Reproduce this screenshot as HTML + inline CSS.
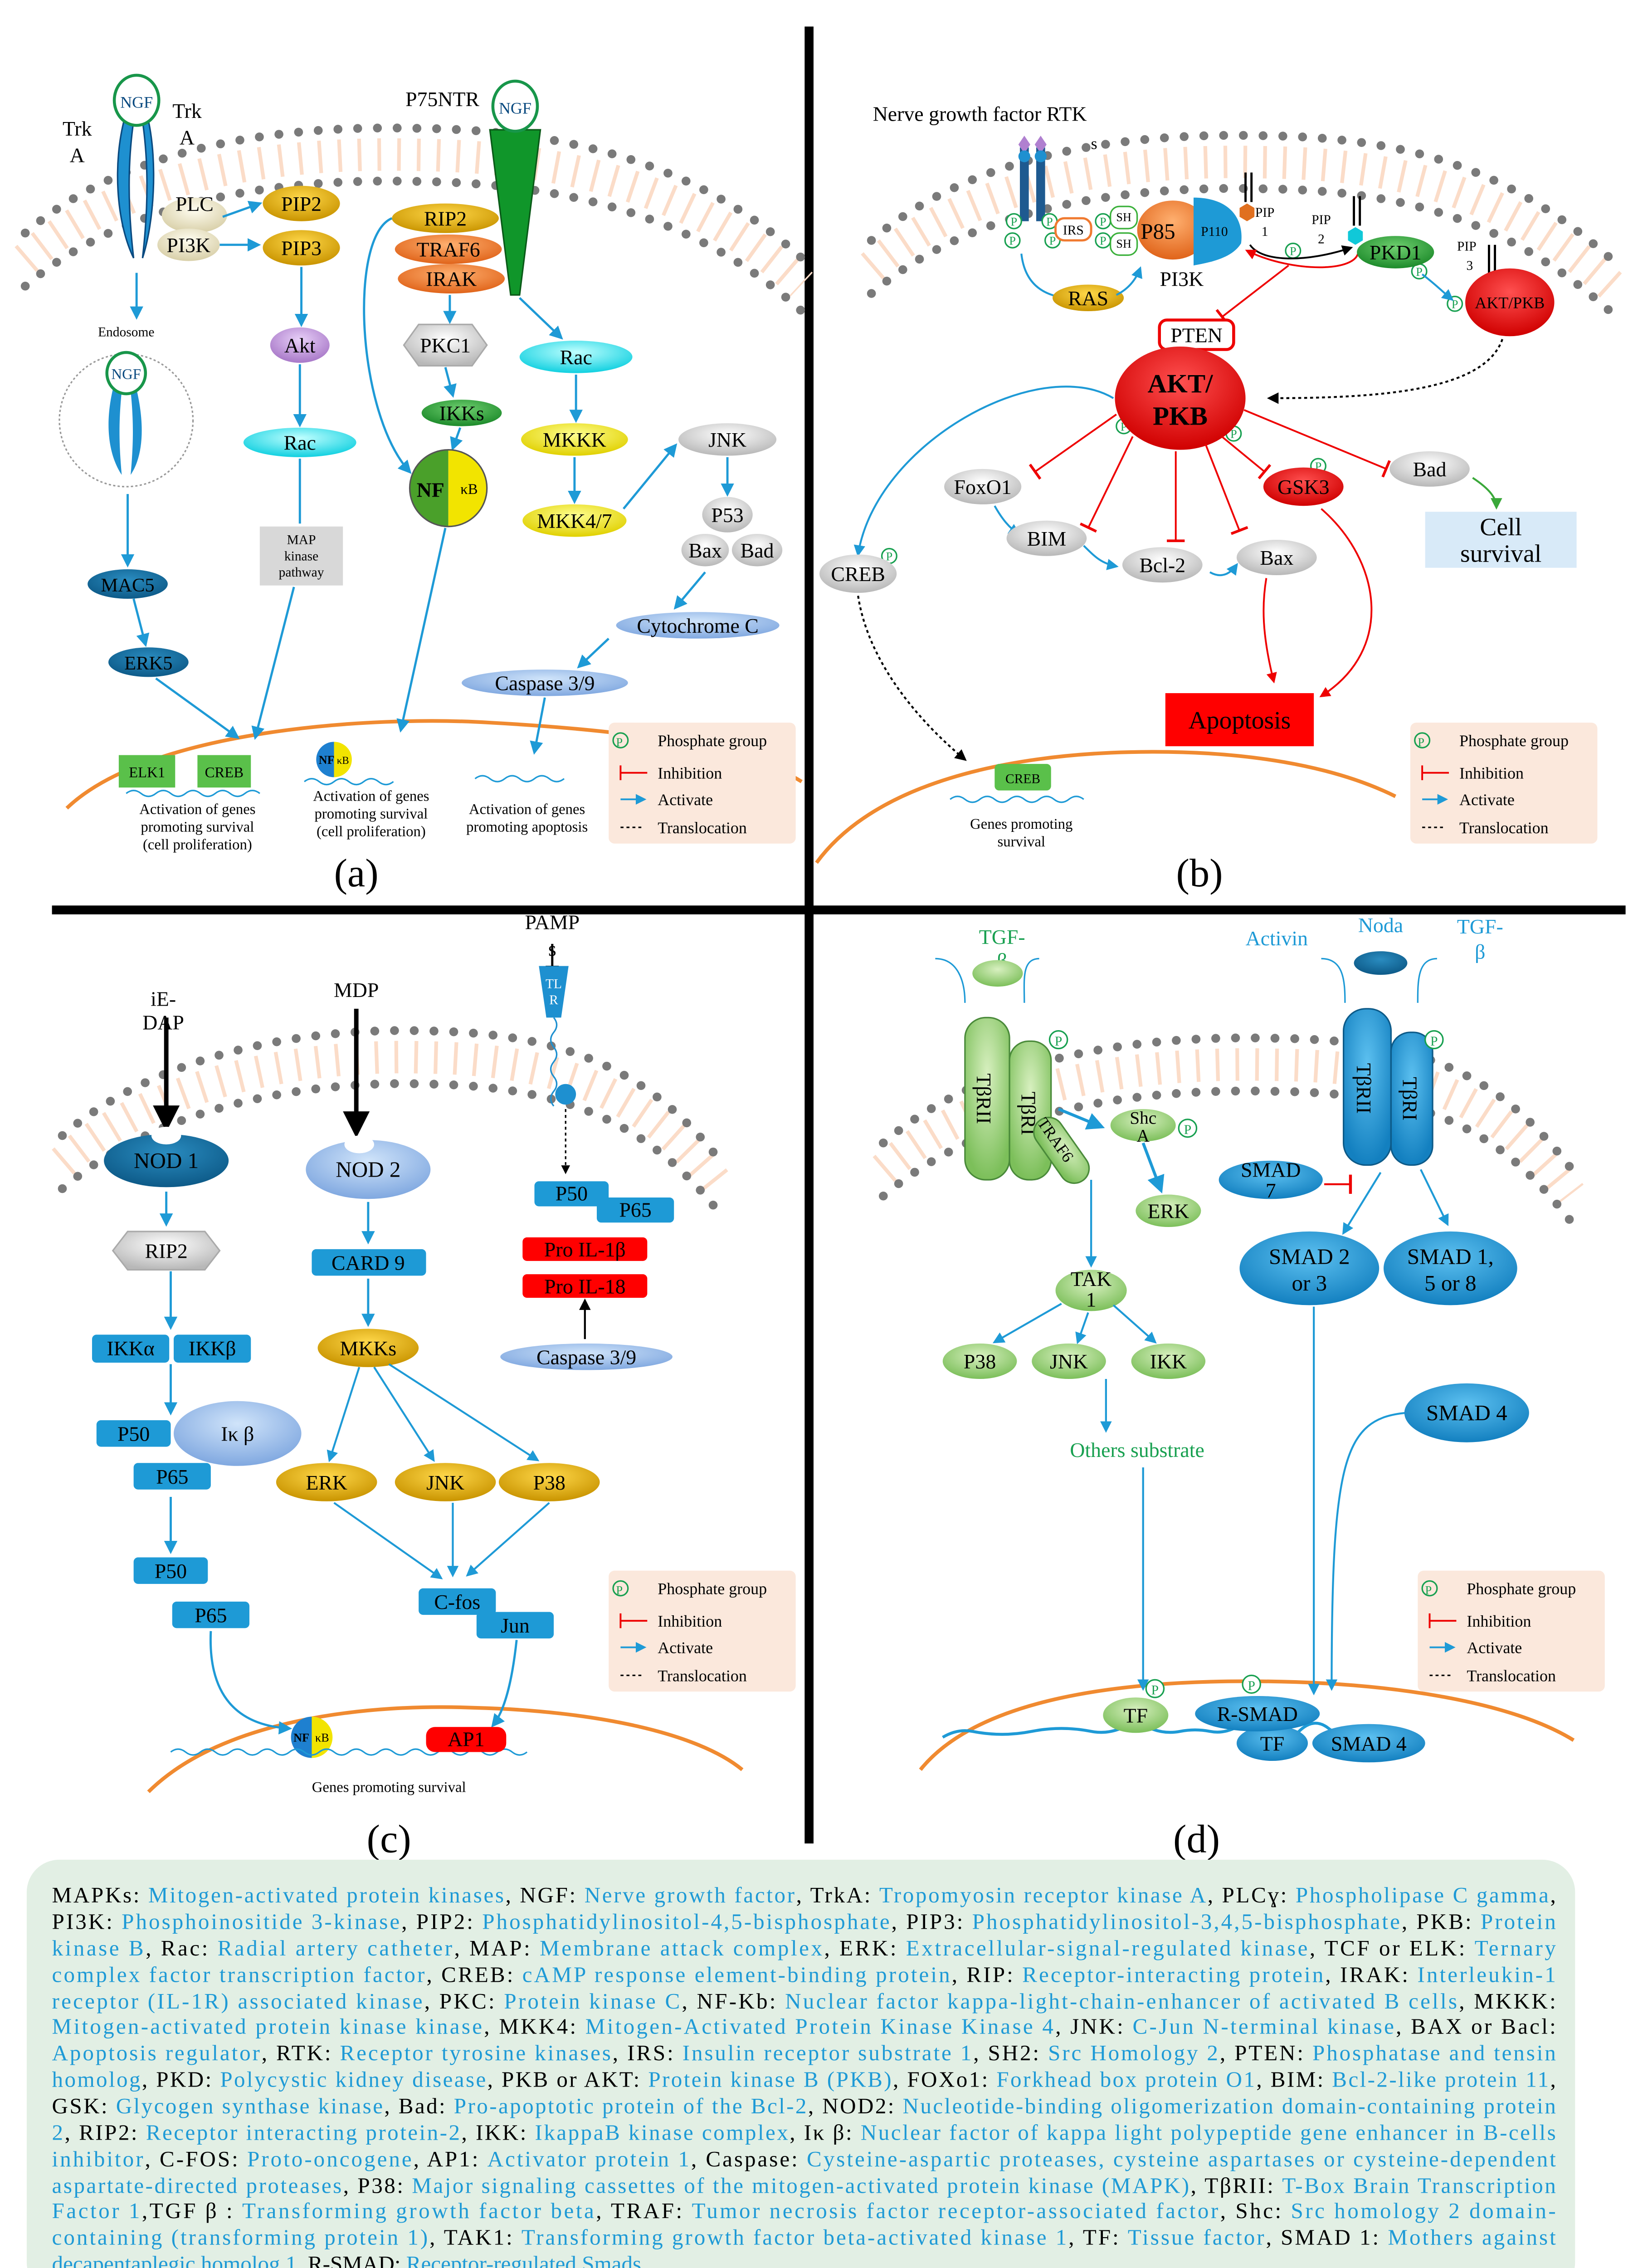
<!DOCTYPE html>
<html><head><meta charset="utf-8"><style>
html,body{margin:0;padding:0;background:#fff;width:3601px;height:5098px;overflow:hidden}
svg{display:block}
text{font-family:"Liberation Serif",serif}
</style></head><body>
<svg width="3601" height="5098" viewBox="0 0 1100 1568" preserveAspectRatio="none" xmlns="http://www.w3.org/2000/svg">
<defs>
<radialGradient id="gO" cx="50%" cy="35%" r="65%"><stop offset="0" stop-color="#ffd84a"/><stop offset="1" stop-color="#c99400"/></radialGradient>
<radialGradient id="gOr" cx="50%" cy="35%" r="65%"><stop offset="0" stop-color="#ffb070"/><stop offset="1" stop-color="#e0641a"/></radialGradient>
<radialGradient id="gB" cx="50%" cy="35%" r="65%"><stop offset="0" stop-color="#5cc0f0"/><stop offset="1" stop-color="#1380c0"/></radialGradient>
<radialGradient id="gDB" cx="50%" cy="35%" r="65%"><stop offset="0" stop-color="#2a8cc0"/><stop offset="1" stop-color="#0d5a88"/></radialGradient>
<radialGradient id="gLB" cx="50%" cy="35%" r="65%"><stop offset="0" stop-color="#d0e4fa"/><stop offset="1" stop-color="#80a8e0"/></radialGradient>
<radialGradient id="gG" cx="50%" cy="35%" r="65%"><stop offset="0" stop-color="#d8f0c0"/><stop offset="1" stop-color="#7cbf5a"/></radialGradient>
<radialGradient id="gGr" cx="50%" cy="35%" r="65%"><stop offset="0" stop-color="#70d070"/><stop offset="1" stop-color="#1c8a2a"/></radialGradient>
<radialGradient id="gC" cx="50%" cy="35%" r="65%"><stop offset="0" stop-color="#c0ffff"/><stop offset="1" stop-color="#10d0e0"/></radialGradient>
<radialGradient id="gY" cx="50%" cy="35%" r="65%"><stop offset="0" stop-color="#ffff90"/><stop offset="1" stop-color="#e0d000"/></radialGradient>
<radialGradient id="gR" cx="50%" cy="35%" r="65%"><stop offset="0" stop-color="#ff5050"/><stop offset="1" stop-color="#d00000"/></radialGradient>
<radialGradient id="gW" cx="50%" cy="35%" r="65%"><stop offset="0" stop-color="#ffffff"/><stop offset="1" stop-color="#b8b8b8"/></radialGradient>
<radialGradient id="gP" cx="50%" cy="35%" r="65%"><stop offset="0" stop-color="#e8d0f8"/><stop offset="1" stop-color="#a878c8"/></radialGradient>
<radialGradient id="gCr" cx="50%" cy="35%" r="65%"><stop offset="0" stop-color="#fffdf0"/><stop offset="1" stop-color="#d8cfa8"/></radialGradient>
<marker id="ab" viewBox="0 0 10 10" refX="8" refY="5" markerWidth="6" markerHeight="6" orient="auto"><path d="M0,0L10,5L0,10z" fill="#1e9ad6"/></marker>
<marker id="ak" viewBox="0 0 10 10" refX="8" refY="5" markerWidth="6" markerHeight="6" orient="auto"><path d="M0,0L10,5L0,10z" fill="#000"/></marker>
<marker id="ag" viewBox="0 0 10 10" refX="8" refY="5" markerWidth="6" markerHeight="6" orient="auto"><path d="M0,0L10,5L0,10z" fill="#3aa83a"/></marker>
<marker id="ar" viewBox="0 0 10 10" refX="8" refY="5" markerWidth="6" markerHeight="6" orient="auto"><path d="M0,0L10,5L0,10z" fill="#e00"/></marker>
<marker id="ti" viewBox="0 0 4 20" refX="2" refY="10" markerWidth="3" markerHeight="10" orient="auto"><rect x="0" y="0" width="3" height="20" fill="#e00"/></marker>
</defs>

<rect x="542" y="18" width="6" height="1232" fill="#000"/>
<rect x="35" y="614" width="1060" height="6" fill="#000"/>

<g fill="none">
<g>
<path d="M17,176 C90,113 200,103 280,105 C380,106 470,128 540,193" stroke="#fbdcc8" stroke-width="22" stroke-dasharray="2.5 10.8"/>
<path d="M17,158 C90,95 200,85 280,87 C380,88 470,110 540,175" stroke="#7a7a7a" stroke-width="6" stroke-linecap="round" stroke-dasharray="0 13.3"/>
<path d="M17,194 C90,131 200,121 280,123 C380,124 470,146 540,211" stroke="#7a7a7a" stroke-width="6" stroke-linecap="round" stroke-dasharray="0 13.3"/>
</g>
<g transform="translate(570,5)">
<path d="M17,176 C90,113 200,103 280,105 C380,106 450,128 520,193" stroke="#fbdcc8" stroke-width="22" stroke-dasharray="2.5 10.8"/>
<path d="M17,158 C90,95 200,85 280,87 C380,88 450,110 520,175" stroke="#7a7a7a" stroke-width="6" stroke-linecap="round" stroke-dasharray="0 13.3"/>
<path d="M17,194 C90,131 200,121 280,123 C380,124 450,146 520,211" stroke="#7a7a7a" stroke-width="6" stroke-linecap="round" stroke-dasharray="0 13.3"/>
</g>
<g transform="translate(25,612)">
<path d="M17,176 C90,113 200,103 260,105 C350,106 410,128 460,193" stroke="#fbdcc8" stroke-width="22" stroke-dasharray="2.5 10.8"/>
<path d="M17,158 C90,95 200,85 260,87 C350,88 410,110 460,175" stroke="#7a7a7a" stroke-width="6" stroke-linecap="round" stroke-dasharray="0 13.3"/>
<path d="M17,194 C90,131 200,121 260,123 C350,124 410,146 460,211" stroke="#7a7a7a" stroke-width="6" stroke-linecap="round" stroke-dasharray="0 13.3"/>
</g>
<g transform="translate(578,617)">
<path d="M17,176 C90,113 200,103 280,105 C380,106 430,128 480,193" stroke="#fbdcc8" stroke-width="22" stroke-dasharray="2.5 10.8"/>
<path d="M17,158 C90,95 200,85 280,87 C380,88 430,110 480,175" stroke="#7a7a7a" stroke-width="6" stroke-linecap="round" stroke-dasharray="0 13.3"/>
<path d="M17,194 C90,131 200,121 280,123 C380,124 430,146 480,211" stroke="#7a7a7a" stroke-width="6" stroke-linecap="round" stroke-dasharray="0 13.3"/>
</g>
<path d="M45,548 C100,495 250,485 330,490 C420,495 500,505 540,530" stroke="#f08a30" stroke-width="2.5"/>
<path d="M550,585 C590,530 680,512 760,510 C840,508 900,520 940,540" stroke="#f08a30" stroke-width="2.5"/>
<path d="M100,1215 C150,1165 250,1155 320,1158 C400,1160 470,1175 500,1200" stroke="#f08a30" stroke-width="2.5"/>
<path d="M620,1200 C660,1150 760,1140 840,1140 C940,1140 1020,1155 1060,1180" stroke="#f08a30" stroke-width="2.5"/>
</g>

<g font-size="11">
<g id="lg">
<rect x="410" y="490" width="126" height="82" rx="4" fill="#fbe8dc"/>
<circle cx="418" cy="502" r="5" fill="none" stroke="#18a050"/><text x="415" y="506" font-size="8" fill="#18a050">P</text>
<text x="443" y="506">Phosphate group</text>
<line x1="418" y1="524" x2="436" y2="524" stroke="#e00" stroke-width="1.2"/><line x1="418" y1="519" x2="418" y2="529" stroke="#e00" stroke-width="1.2"/>
<text x="443" y="528">Inhibition</text>
<line x1="418" y1="542" x2="434" y2="542" stroke="#1e9ad6" stroke-width="1.2" marker-end="url(#ab)"/>
<text x="443" y="546">Activate</text>
<line x1="418" y1="561" x2="434" y2="561" stroke="#000" stroke-dasharray="2 2"/>
<text x="443" y="565">Translocation</text>
</g>
<use href="#lg" x="540" y="0"/>
<use href="#lg" x="0" y="575"/>
<use href="#lg" x="545" y="575"/>
</g>

<g font-size="27" text-anchor="middle">
<text x="240" y="601">(a)</text><text x="808" y="601">(b)</text>
<text x="262" y="1256">(c)</text><text x="806" y="1256">(d)</text>
</g>

<!-- PANEL A -->
<g font-size="14" text-anchor="middle">
<text x="52" y="92">Trk</text><text x="52" y="110">A</text>
<text x="126" y="80">Trk</text><text x="126" y="98">A</text>
<path d="M84,80 C76,110 78,150 90,175 C86,140 86,110 90,82z" fill="#1e90d0" stroke="#0a4a80" stroke-width="1"/>
<path d="M100,82 C106,110 104,150 96,175 C100,140 100,110 96,82z" fill="#1e90d0" stroke="#0a4a80" stroke-width="1"/>
<ellipse cx="92" cy="68" rx="15" ry="17" fill="#fff" stroke="#18964a" stroke-width="2"/>
<text x="92" y="73" font-size="11" fill="#0a4a80">NGF</text>
<line x1="92" y1="185" x2="92" y2="215" stroke="#1e9ad6" stroke-width="1.5" marker-end="url(#ab)"/>
<text x="85" y="228" font-size="9">Endosome</text>
<circle cx="85" cy="285" r="45" fill="none" stroke="#999" stroke-dasharray="1.5 1.5"/>
<path d="M76,264 C70,290 74,310 82,322 C80,300 80,285 82,265z" fill="#1e90d0"/>
<path d="M92,264 C98,290 96,310 88,322 C90,300 90,285 88,265z" fill="#1e90d0"/>
<ellipse cx="85" cy="253" rx="13" ry="14" fill="#fff" stroke="#18964a" stroke-width="2"/>
<text x="85" y="257" font-size="10" fill="#0a4a80">NGF</text>
<line x1="86" y1="335" x2="86" y2="383" stroke="#1e9ad6" stroke-width="1.5" marker-end="url(#ab)"/>
<ellipse cx="86" cy="396" rx="27" ry="10" fill="url(#gDB)"/><text x="86" y="401" font-size="13">MAC5</text>
<line x1="90" y1="406" x2="98" y2="437" stroke="#1e9ad6" stroke-width="1.5" marker-end="url(#ab)"/>
<ellipse cx="100" cy="449" rx="27" ry="10" fill="url(#gDB)"/><text x="100" y="454" font-size="13">ERK5</text>
<line x1="105" y1="460" x2="160" y2="500" stroke="#1e9ad6" stroke-width="1.5" marker-end="url(#ab)"/>

<ellipse cx="131" cy="146" rx="22" ry="12" fill="url(#gCr)"/><text x="131" y="143">PLC</text>
<ellipse cx="127" cy="166" rx="21" ry="11" fill="url(#gCr)"/><text x="127" y="171">PI3K</text>
<line x1="150" y1="147" x2="175" y2="138" stroke="#1e9ad6" stroke-width="1.5" marker-end="url(#ab)"/>
<line x1="148" y1="166" x2="174" y2="166" stroke="#1e9ad6" stroke-width="1.5" marker-end="url(#ab)"/>
<ellipse cx="203" cy="138" rx="26" ry="12" fill="url(#gO)"/><text x="203" y="143">PIP2</text>
<ellipse cx="203" cy="168" rx="26" ry="12" fill="url(#gO)"/><text x="203" y="173">PIP3</text>
<line x1="203" y1="181" x2="203" y2="220" stroke="#1e9ad6" stroke-width="1.5" marker-end="url(#ab)"/>
<ellipse cx="202" cy="234" rx="20" ry="12" fill="url(#gP)"/><text x="202" y="239">Akt</text>
<line x1="202" y1="247" x2="202" y2="288" stroke="#1e9ad6" stroke-width="1.5" marker-end="url(#ab)"/>
<ellipse cx="202" cy="300" rx="38" ry="10" fill="url(#gC)"/><text x="202" y="305">Rac</text>
<line x1="202" y1="311" x2="202" y2="355" stroke="#1e9ad6" stroke-width="1.5"/>
<rect x="175" y="357" width="56" height="40" fill="#d8d8d8"/>
<text x="203" y="369" font-size="9">MAP</text><text x="203" y="380" font-size="9">kinase</text><text x="203" y="391" font-size="9">pathway</text>
<line x1="198" y1="398" x2="172" y2="500" stroke="#1e9ad6" stroke-width="1.5" marker-end="url(#ab)"/>

<text x="298" y="72">P75NTR</text>
<path d="M330,88 L364,88 L350,200 L344,200z" fill="#10962a" stroke="#0a5a18"/>
<ellipse cx="347" cy="72" rx="15" ry="17" fill="#fff" stroke="#18964a" stroke-width="2"/>
<text x="347" y="77" font-size="11" fill="#0a4a80">NGF</text>
<ellipse cx="300" cy="148" rx="36" ry="10" fill="url(#gO)"/><text x="300" y="153">RIP2</text>
<ellipse cx="302" cy="169" rx="36" ry="10" fill="url(#gOr)"/><text x="302" y="174">TRAF6</text>
<ellipse cx="304" cy="189" rx="36" ry="10" fill="url(#gOr)"/><text x="304" y="194">IRAK</text>
<line x1="303" y1="200" x2="303" y2="218" stroke="#1e9ad6" stroke-width="1.5" marker-end="url(#ab)"/>
<polygon points="272,234 282,220 318,220 328,234 318,248 282,248" fill="url(#gW)" stroke="#aaa"/><text x="300" y="239">PKC1</text>
<line x1="300" y1="249" x2="305" y2="268" stroke="#1e9ad6" stroke-width="1.5" marker-end="url(#ab)"/>
<ellipse cx="311" cy="280" rx="27" ry="9" fill="url(#gGr)"/><text x="311" y="285">IKKs</text>
<line x1="310" y1="290" x2="305" y2="304" stroke="#1e9ad6" stroke-width="1.5" marker-end="url(#ab)"/>
<path d="M302,305 A26,26 0 0 0 302,357z" fill="#4aa02a"/><path d="M302,305 A26,26 0 0 1 302,357z" fill="#f2e400"/>
<circle cx="302" cy="331" r="26" fill="none" stroke="#555"/>
<text x="290" y="337" font-size="14" font-weight="bold">NF</text><text x="316" y="335" font-size="10">κB</text>
<path d="M264,148 C235,160 240,280 276,320" fill="none" stroke="#1e9ad6" stroke-width="1.5" marker-end="url(#ab)"/>
<line x1="300" y1="358" x2="270" y2="495" stroke="#1e9ad6" stroke-width="1.5" marker-end="url(#ab)"/>
<line x1="350" y1="202" x2="378" y2="229" stroke="#1e9ad6" stroke-width="1.5" marker-end="url(#ab)"/>
<ellipse cx="388" cy="242" rx="38" ry="11" fill="url(#gC)"/><text x="388" y="247">Rac</text>
<line x1="388" y1="254" x2="388" y2="285" stroke="#1e9ad6" stroke-width="1.5" marker-end="url(#ab)"/>
<ellipse cx="387" cy="298" rx="36" ry="11" fill="url(#gY)"/><text x="387" y="303">MKKK</text>
<line x1="387" y1="310" x2="387" y2="340" stroke="#1e9ad6" stroke-width="1.5" marker-end="url(#ab)"/>
<ellipse cx="387" cy="353" rx="35" ry="11" fill="url(#gY)"/><text x="387" y="358">MKK4/7</text>
<line x1="420" y1="345" x2="455" y2="302" stroke="#1e9ad6" stroke-width="1.5" marker-end="url(#ab)"/>
<ellipse cx="490" cy="298" rx="33" ry="11" fill="url(#gW)"/><text x="490" y="303">JNK</text>
<line x1="490" y1="310" x2="490" y2="335" stroke="#1e9ad6" stroke-width="1.5" marker-end="url(#ab)"/>
<ellipse cx="490" cy="349" rx="17" ry="12" fill="url(#gW)"/><text x="490" y="354">P53</text>
<ellipse cx="475" cy="373" rx="16" ry="11" fill="url(#gW)"/><text x="475" y="378">Bax</text>
<ellipse cx="510" cy="373" rx="17" ry="11" fill="url(#gW)"/><text x="510" y="378">Bad</text>
<line x1="475" y1="388" x2="455" y2="412" stroke="#1e9ad6" stroke-width="1.5" marker-end="url(#ab)"/>
<ellipse cx="470" cy="424" rx="55" ry="9" fill="url(#gLB)"/><text x="470" y="429">Cytochrome C</text>
<line x1="410" y1="433" x2="390" y2="452" stroke="#1e9ad6" stroke-width="1.5" marker-end="url(#ab)"/>
<ellipse cx="367" cy="463" rx="56" ry="9" fill="url(#gLB)"/><text x="367" y="468">Caspase 3/9</text>
<line x1="367" y1="473" x2="360" y2="510" stroke="#1e9ad6" stroke-width="1.5" marker-end="url(#ab)"/>

<rect x="80" y="512" width="38" height="22" fill="#5ac04a"/><text x="99" y="527" font-size="10">ELK1</text>
<rect x="133" y="512" width="36" height="22" fill="#5ac04a"/><text x="151" y="527" font-size="10">CREB</text>
<path d="M85,538 q5,-4 10,0 t10,0 t10,0 t10,0 t10,0 t10,0 t10,0 t10,0 t10,0" fill="none" stroke="#1e9ad6"/>
<text x="133" y="552" font-size="10">Activation of genes</text><text x="133" y="564" font-size="10">promoting survival</text><text x="133" y="576" font-size="10">(cell proliferation)</text>
<path d="M225,503 A12,12 0 0 0 225,527z" fill="#1e80d0"/><path d="M225,503 A12,12 0 0 1 225,527z" fill="#f2e400"/>
<text x="220" y="518" font-size="8" font-weight="bold">NF</text><text x="231" y="518" font-size="7">κB</text>
<path d="M205,530 q5,-4 10,0 t10,0 t10,0 t10,0 t10,0 t10,0" fill="none" stroke="#1e9ad6"/>
<text x="250" y="543" font-size="10">Activation of genes</text><text x="250" y="555" font-size="10">promoting survival</text><text x="250" y="567" font-size="10">(cell proliferation)</text>
<path d="M320,528 q5,-4 10,0 t10,0 t10,0 t10,0 t10,0 t10,0" fill="none" stroke="#1e9ad6"/>
<text x="355" y="552" font-size="10">Activation of genes</text><text x="355" y="564" font-size="10">promoting apoptosis</text>
</g>

<!-- PANEL B -->
<g font-size="14" text-anchor="middle">
<text x="660" y="82">Nerve growth factor RTK</text>
<text x="737" y="101" font-size="11">s</text>
<rect x="687" y="100" width="6" height="50" fill="#1e5a90"/><rect x="698" y="100" width="6" height="50" fill="#1e5a90"/>
<polygon points="690,92 694,98 690,104 686,98" fill="#b080d0"/><polygon points="701,92 705,98 701,104 697,98" fill="#b080d0"/>
<circle cx="690" cy="106" r="4" fill="#1e90d0"/><circle cx="701" cy="106" r="4" fill="#1e90d0"/>
<g font-size="8" fill="#18a050">
<circle cx="683" cy="150" r="5" fill="#fff" stroke="#18a050"/><text x="683" y="153">P</text>
<circle cx="707" cy="150" r="5" fill="#fff" stroke="#18a050"/><text x="707" y="153">P</text>
<circle cx="682" cy="163" r="5" fill="#fff" stroke="#18a050"/><text x="682" y="166">P</text>
<circle cx="709" cy="163" r="5" fill="#fff" stroke="#18a050"/><text x="709" y="166">P</text>
<circle cx="743" cy="150" r="5" fill="#fff" stroke="#18a050"/><text x="743" y="153">P</text>
<circle cx="743" cy="163" r="5" fill="#fff" stroke="#18a050"/><text x="743" y="166">P</text>
<circle cx="871" cy="170" r="5" fill="#fff" stroke="#18a050"/><text x="871" y="173">P</text>
<circle cx="956" cy="184" r="5" fill="#fff" stroke="#18a050"/><text x="956" y="187">P</text>
<circle cx="980" cy="206" r="5" fill="#fff" stroke="#18a050"/><text x="980" y="209">P</text>
<circle cx="757" cy="289" r="5" fill="#fff" stroke="#18a050"/><text x="757" y="292">P</text>
<circle cx="831" cy="294" r="5" fill="#fff" stroke="#18a050"/><text x="831" y="297">P</text>
<circle cx="888" cy="316" r="5" fill="#fff" stroke="#18a050"/><text x="888" y="319">P</text>
<circle cx="599" cy="377" r="5" fill="#fff" stroke="#18a050"/><text x="599" y="380">P</text>
</g>
<rect x="711" y="148" width="24" height="15" rx="6" fill="#fff" stroke="#f07a30" stroke-width="1.5"/><text x="723" y="159" font-size="9">IRS</text>
<rect x="748" y="140" width="18" height="15" rx="6" fill="none" stroke="#3ab03a"/><rect x="748" y="158" width="18" height="15" rx="6" fill="none" stroke="#3ab03a"/>
<text x="757" y="150" font-size="8">SH</text><text x="757" y="168" font-size="8">SH</text>
<ellipse cx="790" cy="156" rx="24" ry="20" fill="url(#gOr)"/><text x="780" y="162" font-size="15">P85</text>
<path d="M804,134 C830,134 838,150 836,165 C830,175 815,178 804,180z" fill="#1e9ad6"/><text x="818" y="160" font-size="9">P110</text>
<polygon points="835,141 840,138 845,141 845,147 840,150 835,147" fill="#e07020"/>
<path d="M839,137 v-20 M843,137 v-20" stroke="#000" stroke-width="1.5"/>
<text x="852" y="147" font-size="9">PIP</text><text x="852" y="160" font-size="9">1</text>
<text x="890" y="152" font-size="9">PIP</text><text x="890" y="165" font-size="9">2</text>
<polygon points="908,157 913,154 918,157 918,163 913,166 908,163" fill="#10c8d8"/>
<path d="M912,153 v-20 M916,153 v-20" stroke="#000" stroke-width="1.5"/>
<path d="M842,166 C850,178 880,178 910,168" fill="none" stroke="#000" stroke-width="1.2" marker-end="url(#ak)"/>
<path d="M915,170 C915,185 870,185 840,170" fill="none" stroke="#e00" stroke-width="1.2" marker-end="url(#ar)"/>
<line x1="868" y1="180" x2="823" y2="215" stroke="#e00" stroke-width="1.2" marker-end="url(#ti)"/>
<rect x="781" y="217" width="50" height="20" rx="5" fill="#fff" stroke="#e00" stroke-width="2"/><text x="806" y="232">PTEN</text>
<path d="M688,172 C690,190 700,200 718,202" fill="none" stroke="#1e9ad6" stroke-width="1.3" marker-end="url(#ab)"/>
<ellipse cx="733" cy="202" rx="24" ry="9" fill="url(#gO)"/><text x="733" y="207">RAS</text>
<path d="M752,200 C760,196 765,190 768,182" fill="none" stroke="#1e9ad6" stroke-width="1.3" marker-end="url(#ab)"/>
<text x="796" y="194">PI3K</text>
<ellipse cx="940" cy="171" rx="26" ry="11" fill="url(#gGr)"/><text x="940" y="176">PKD1</text>
<text x="988" y="170" font-size="9">PIP</text><text x="990" y="183" font-size="9">3</text>
<polygon points="1000,190 1005,187 1010,190 1010,196 1005,199 1000,196" fill="#1c8a2a"/>
<path d="M1003,186 v-20 M1007,186 v-20" stroke="#000" stroke-width="1.5"/>
<path d="M958,186 C966,192 972,198 978,203" fill="none" stroke="#1e9ad6" stroke-width="1.3" marker-end="url(#ab)"/>
<ellipse cx="1017" cy="205" rx="30" ry="23" fill="url(#gR)"/><text x="1017" y="209" font-size="11">AKT/PKB</text>
<path d="M1012,230 C1000,265 930,270 855,270" fill="none" stroke="#000" stroke-width="1.3" stroke-dasharray="2 2" marker-end="url(#ak)"/>
<ellipse cx="795" cy="270" rx="44" ry="35" fill="url(#gR)"/>
<text x="795" y="266" font-size="18" font-weight="bold">AKT/</text><text x="795" y="288" font-size="18" font-weight="bold">PKB</text>
<g stroke="#e00" stroke-width="1.2" fill="none">
<line x1="752" y1="281" x2="697" y2="320" marker-end="url(#ti)"/>
<line x1="763" y1="296" x2="733" y2="358" marker-end="url(#ti)"/>
<line x1="792" y1="306" x2="792" y2="367" marker-end="url(#ti)"/>
<line x1="812" y1="301" x2="835" y2="360" marker-end="url(#ti)"/>
<line x1="823" y1="296" x2="852" y2="320" marker-end="url(#ti)"/>
<line x1="838" y1="278" x2="934" y2="318" marker-end="url(#ti)"/>
<path d="M853,392 C850,410 850,430 858,462" marker-end="url(#ar)"/>
<path d="M890,345 C930,380 940,440 890,472" marker-end="url(#ar)"/>
</g>
<ellipse cx="662" cy="330" rx="26" ry="12" fill="url(#gW)"/><text x="662" y="335">FoxO1</text>
<path d="M670,343 C675,352 680,358 686,362" fill="none" stroke="#1e9ad6" stroke-width="1.3" marker-end="url(#ab)"/>
<ellipse cx="705" cy="365" rx="27" ry="12" fill="url(#gW)"/><text x="705" y="370">BIM</text>
<path d="M730,370 C738,378 742,382 752,384" fill="none" stroke="#1e9ad6" stroke-width="1.3" marker-end="url(#ab)"/>
<ellipse cx="783" cy="383" rx="27" ry="12" fill="url(#gW)"/><text x="783" y="388">Bcl-2</text>
<path d="M815,388 C822,392 828,390 833,383" fill="none" stroke="#1e9ad6" stroke-width="1.3" marker-end="url(#ab)"/>
<ellipse cx="860" cy="378" rx="27" ry="12" fill="url(#gW)"/><text x="860" y="383">Bax</text>
<ellipse cx="878" cy="330" rx="27" ry="13" fill="url(#gR)"/><text x="878" y="335">GSK3</text>
<ellipse cx="963" cy="318" rx="27" ry="12" fill="url(#gW)"/><text x="963" y="323">Bad</text>
<path d="M992,324 C1004,332 1008,338 1008,344" fill="none" stroke="#3aa83a" stroke-width="1.3" marker-end="url(#ag)"/>
<rect x="960" y="347" width="102" height="38" fill="#d8eaf8"/>
<text x="1011" y="363" font-size="17">Cell</text><text x="1011" y="381" font-size="17">survival</text>
<rect x="785" y="470" width="100" height="36" fill="#f00"/><text x="835" y="494" font-size="17">Apoptosis</text>
<path d="M750,270 C700,240 590,300 578,376" fill="none" stroke="#1e9ad6" stroke-width="1.3" marker-end="url(#ab)"/>
<ellipse cx="578" cy="389" rx="26" ry="13" fill="url(#gW)"/><text x="578" y="394">CREB</text>
<path d="M578,404 C585,450 620,490 650,515" fill="none" stroke="#000" stroke-width="1.3" stroke-dasharray="2 2" marker-end="url(#ak)"/>
<rect x="670" y="518" width="38" height="18" rx="3" fill="#5ac04a"/><text x="689" y="531" font-size="9">CREB</text>
<path d="M640,542 q5,-4 10,0 t10,0 t10,0 t10,0 t10,0 t10,0 t10,0 t10,0 t10,0" fill="none" stroke="#1e9ad6"/>
<text x="688" y="562" font-size="10">Genes promoting</text><text x="688" y="574" font-size="10">survival</text>
</g>

<!-- PANEL C -->
<g font-size="14" text-anchor="middle">
<text x="110" y="682">iE-</text><text x="110" y="698">DAP</text>
<line x1="112" y1="690" x2="112" y2="764" stroke="#000" stroke-width="3" marker-end="url(#ak)"/>
<path d="M70,787 A42,18 0 0 1 154,787 A42,18 0 0 1 70,787z" fill="url(#gDB)"/>
<ellipse cx="112" cy="770" rx="10" ry="6" fill="#fff"/>
<text x="112" y="792" font-size="15">NOD 1</text>
<text x="240" y="676">MDP</text>
<line x1="240" y1="684" x2="240" y2="768" stroke="#000" stroke-width="3" marker-end="url(#ak)"/>
<ellipse cx="248" cy="793" rx="42" ry="20" fill="url(#gLB)"/>
<ellipse cx="242" cy="776" rx="10" ry="6" fill="#fff"/>
<text x="248" y="798" font-size="15">NOD 2</text>
<text x="372" y="630">PAMP</text><text x="372" y="648">s</text>
<line x1="372" y1="640" x2="372" y2="662" stroke="#000" stroke-width="1.5" marker-end="url(#ak)"/>
<path d="M363,655 L383,655 L378,690 L368,690z" fill="#1e90d0"/>
<text x="373" y="670" font-size="9" fill="#fff">TL</text><text x="373" y="681" font-size="9" fill="#fff">R</text>
<path d="M373,690 q4,5 0,10 t0,10 t0,10 t0,10 t0,10 t0,10" fill="none" stroke="#1e90d0"/>
<circle cx="381" cy="742" r="7" fill="#1e90d0"/>
<line x1="381" y1="752" x2="381" y2="795" stroke="#000" stroke-dasharray="2 2" marker-end="url(#ak)"/>
<rect x="360" y="801" width="50" height="17" rx="3" fill="#1e9ad6"/><text x="385" y="814">P50</text>
<rect x="402" y="812" width="52" height="17" rx="3" fill="#1e9ad6"/><text x="428" y="825">P65</text>
<rect x="352" y="839" width="84" height="16" rx="3" fill="#f00"/><text x="394" y="852">Pro IL-1β</text>
<rect x="352" y="864" width="84" height="16" rx="3" fill="#f00"/><text x="394" y="877">Pro IL-18</text>
<line x1="394" y1="908" x2="394" y2="882" stroke="#000" stroke-width="1.3" marker-end="url(#ak)"/>
<ellipse cx="395" cy="920" rx="58" ry="9" fill="url(#gLB)"/><text x="395" y="925">Caspase 3/9</text>

<line x1="112" y1="808" x2="112" y2="830" stroke="#1e9ad6" stroke-width="1.5" marker-end="url(#ab)"/>
<polygon points="76,848 86,835 138,835 148,848 138,861 86,861" fill="url(#gW)" stroke="#aaa"/><text x="112" y="853">RIP2</text>
<line x1="115" y1="862" x2="115" y2="900" stroke="#1e9ad6" stroke-width="1.5" marker-end="url(#ab)"/>
<rect x="62" y="905" width="52" height="19" rx="3" fill="#1e9ad6"/><text x="88" y="919">IKKα</text>
<rect x="117" y="905" width="52" height="19" rx="3" fill="#1e9ad6"/><text x="143" y="919">IKKβ</text>
<line x1="115" y1="925" x2="115" y2="958" stroke="#1e9ad6" stroke-width="1.5" marker-end="url(#ab)"/>
<ellipse cx="160" cy="972" rx="43" ry="22" fill="url(#gLB)"/><text x="160" y="977">Iκ β</text>
<rect x="65" y="963" width="50" height="18" rx="3" fill="#1e9ad6"/><text x="90" y="977">P50</text>
<rect x="90" y="992" width="52" height="18" rx="3" fill="#1e9ad6"/><text x="116" y="1006">P65</text>
<line x1="115" y1="1015" x2="115" y2="1052" stroke="#1e9ad6" stroke-width="1.5" marker-end="url(#ab)"/>
<rect x="90" y="1056" width="50" height="18" rx="3" fill="#1e9ad6"/><text x="115" y="1070">P50</text>
<rect x="116" y="1086" width="52" height="18" rx="3" fill="#1e9ad6"/><text x="142" y="1100">P65</text>
<path d="M142,1106 C140,1150 160,1170 195,1172" fill="none" stroke="#1e9ad6" stroke-width="1.5" marker-end="url(#ab)"/>
<path d="M210,1164 A14,14 0 0 0 210,1192z" fill="#1e80d0"/><path d="M210,1164 A14,14 0 0 1 210,1192z" fill="#f2e400"/>
<text x="203" y="1181" font-size="8" font-weight="bold">NF</text><text x="217" y="1181" font-size="8">κB</text>
<path d="M115,1188 q5,-4 10,0 t10,0 t10,0 t10,0 t10,0 t10,0 t10,0 t10,0 t10,0 t10,0 t10,0 t10,0 t10,0 t10,0 t10,0 t10,0 t10,0 t10,0 t10,0 t10,0 t10,0 t10,0 t10,0 t10,0" fill="none" stroke="#1e9ad6"/>
<text x="262" y="1215" font-size="10">Genes promoting survival</text>

<line x1="248" y1="815" x2="248" y2="842" stroke="#1e9ad6" stroke-width="1.5" marker-end="url(#ab)"/>
<rect x="210" y="847" width="77" height="18" rx="3" fill="#1e9ad6"/><text x="248" y="861">CARD 9</text>
<line x1="248" y1="867" x2="248" y2="898" stroke="#1e9ad6" stroke-width="1.5" marker-end="url(#ab)"/>
<ellipse cx="248" cy="914" rx="34" ry="13" fill="url(#gO)"/><text x="248" y="919">MKKs</text>
<g stroke="#1e9ad6" stroke-width="1.3">
<line x1="242" y1="927" x2="222" y2="990" marker-end="url(#ab)"/>
<line x1="252" y1="927" x2="292" y2="990" marker-end="url(#ab)"/>
<line x1="262" y1="925" x2="362" y2="990" marker-end="url(#ab)"/>
<line x1="225" y1="1019" x2="297" y2="1070" marker-end="url(#ab)"/>
<line x1="305" y1="1019" x2="305" y2="1068" marker-end="url(#ab)"/>
<line x1="370" y1="1019" x2="315" y2="1068" marker-end="url(#ab)"/>
</g>
<ellipse cx="220" cy="1005" rx="34" ry="13" fill="url(#gO)"/><text x="220" y="1010">ERK</text>
<ellipse cx="300" cy="1005" rx="34" ry="13" fill="url(#gO)"/><text x="300" y="1010">JNK</text>
<ellipse cx="370" cy="1005" rx="34" ry="13" fill="url(#gO)"/><text x="370" y="1010">P38</text>
<rect x="282" y="1077" width="52" height="18" rx="3" fill="#1e9ad6"/><text x="308" y="1091">C-fos</text>
<rect x="321" y="1093" width="52" height="18" rx="3" fill="#1e9ad6"/><text x="347" y="1107">Jun</text>
<path d="M348,1112 C345,1140 340,1160 332,1170" fill="none" stroke="#1e9ad6" stroke-width="1.5" marker-end="url(#ab)"/>
<rect x="287" y="1171" width="54" height="17" rx="6" fill="#f00"/><text x="314" y="1184">AP1</text>
</g>

<!-- PANEL D -->
<g font-size="14" text-anchor="middle">
<text x="675" y="640" fill="#18a050">TGF-</text><text x="675" y="656" fill="#18a050">β</text>
<ellipse cx="672" cy="660" rx="17" ry="9" fill="url(#gG)"/>
<path d="M630,650 C645,650 650,665 650,680 M700,650 C688,650 690,665 690,680" fill="none" stroke="#1e9ad6"/>
<rect x="650" y="690" width="30" height="110" rx="14" fill="url(#gG)" stroke="#4a8a3a"/>
<rect x="680" y="706" width="28" height="94" rx="13" fill="url(#gG)" stroke="#4a8a3a"/>
<text transform="translate(658,745) rotate(90)">TβRII</text>
<text transform="translate(688,755) rotate(90)">TβRI</text>
<circle cx="713" cy="705" r="6" fill="#fff" stroke="#18a050"/><text x="713" y="709" font-size="9" fill="#18a050">P</text>
<rect x="690" y="770" width="50" height="20" rx="10" fill="url(#gG)" stroke="#4a8a3a" transform="rotate(55 715 780)"/>
<text transform="translate(708,775) rotate(55)" font-size="11">TRAF6</text>
<line x1="713" y1="752" x2="742" y2="764" stroke="#1e9ad6" stroke-width="2" marker-end="url(#ab)"/>
<ellipse cx="770" cy="763" rx="22" ry="11" fill="url(#gG)"/><text x="770" y="762" font-size="12">Shc</text><text x="770" y="774" font-size="12">A</text>
<circle cx="800" cy="765" r="6" fill="#fff" stroke="#18a050"/><text x="800" y="769" font-size="9" fill="#18a050">P</text>
<line x1="770" y1="775" x2="782" y2="807" stroke="#1e9ad6" stroke-width="2" marker-end="url(#ab)"/>
<ellipse cx="787" cy="821" rx="22" ry="11" fill="url(#gG)"/><text x="787" y="826">ERK</text>
<line x1="735" y1="800" x2="735" y2="858" stroke="#1e9ad6" stroke-width="1.3" marker-end="url(#ab)"/>
<ellipse cx="735" cy="875" rx="24" ry="14" fill="url(#gG)"/><text x="735" y="872">TAK</text><text x="735" y="886">1</text>
<g stroke="#1e9ad6" stroke-width="1.3">
<line x1="715" y1="884" x2="670" y2="910" marker-end="url(#ab)"/>
<line x1="733" y1="890" x2="726" y2="910" marker-end="url(#ab)"/>
<line x1="750" y1="885" x2="778" y2="910" marker-end="url(#ab)"/>
<line x1="745" y1="935" x2="745" y2="970" marker-end="url(#ab)"/>
</g>
<ellipse cx="660" cy="923" rx="25" ry="12" fill="url(#gG)"/><text x="660" y="928">P38</text>
<ellipse cx="720" cy="923" rx="25" ry="12" fill="url(#gG)"/><text x="720" y="928">JNK</text>
<ellipse cx="787" cy="923" rx="25" ry="12" fill="url(#gG)"/><text x="787" y="928">IKK</text>
<text x="766" y="988" fill="#18a050">Others substrate</text>
<line x1="770" y1="995" x2="770" y2="1145" stroke="#1e9ad6" stroke-width="1.3" marker-end="url(#ab)"/>

<text x="860" y="641" fill="#1e9ad6">Activin</text>
<text x="930" y="632" fill="#1e9ad6">Noda</text>
<ellipse cx="930" cy="653" rx="18" ry="8" fill="url(#gDB)"/>
<text x="997" y="633" fill="#1e9ad6">TGF-</text><text x="997" y="650" fill="#1e9ad6">β</text>
<path d="M890,650 C905,650 906,665 906,680 M968,650 C955,650 955,665 955,680" fill="none" stroke="#1e9ad6"/>
<rect x="905" y="684" width="32" height="106" rx="15" fill="url(#gB)" stroke="#0d5a88"/>
<rect x="937" y="700" width="28" height="90" rx="13" fill="url(#gB)" stroke="#0d5a88"/>
<text transform="translate(914,738) rotate(90)">TβRII</text>
<text transform="translate(945,745) rotate(90)">TβRI</text>
<circle cx="966" cy="705" r="6" fill="#fff" stroke="#18a050"/><text x="966" y="709" font-size="9" fill="#18a050">P</text>
<ellipse cx="856" cy="800" rx="35" ry="13" fill="url(#gB)"/><text x="856" y="798">SMAD</text><text x="856" y="812">7</text>
<line x1="892" y1="803" x2="910" y2="803" stroke="#e00" stroke-width="1.3" marker-end="url(#ti)"/>
<g stroke="#1e9ad6" stroke-width="1.3">
<line x1="930" y1="795" x2="905" y2="836" marker-end="url(#ab)"/>
<line x1="957" y1="793" x2="975" y2="830" marker-end="url(#ab)"/>
<line x1="885" y1="886" x2="885" y2="1148" marker-end="url(#ab)"/>
<path d="M947,958 C905,962 897,990 897,1145" fill="none" marker-end="url(#ab)"/>
</g>
<ellipse cx="882" cy="860" rx="47" ry="25" fill="url(#gB)"/><text x="882" y="857" font-size="15">SMAD 2</text><text x="882" y="875" font-size="15">or 3</text>
<ellipse cx="977" cy="860" rx="45" ry="25" fill="url(#gB)"/><text x="977" y="857" font-size="15">SMAD 1,</text><text x="977" y="875" font-size="15">5 or 8</text>
<ellipse cx="988" cy="958" rx="42" ry="20" fill="url(#gB)"/><text x="988" y="963" font-size="15">SMAD 4</text>
<path d="M635,1178 q10,-6 20,-4 t20,2 t20,-2 t20,-2 t20,2 t20,-2 t20,0 t20,2 t20,0 t20,-4 t20,4 t20,0 t20,-2 t20,2" fill="none" stroke="#1e9ad6" stroke-width="2"/>
<ellipse cx="765" cy="1163" rx="22" ry="12" fill="url(#gG)"/><text x="765" y="1168">TF</text>
<circle cx="778" cy="1145" r="6" fill="#fff" stroke="#18a050"/><text x="778" y="1149" font-size="9" fill="#18a050">P</text>
<ellipse cx="922" cy="1182" rx="38" ry="13" fill="url(#gB)"/><text x="922" y="1187">SMAD 4</text>
<ellipse cx="857" cy="1182" rx="24" ry="12" fill="url(#gB)"/><text x="857" y="1187">TF</text>
<ellipse cx="847" cy="1162" rx="42" ry="12" fill="url(#gB)"/><text x="847" y="1167">R-SMAD</text>
<circle cx="843" cy="1142" r="6" fill="#fff" stroke="#18a050"/><text x="843" y="1146" font-size="9" fill="#18a050">P</text>
</g>

<rect x="18" y="1261" width="1043" height="295" rx="22" fill="#e2efe4"/>
<g font-size="15" fill="#000">
<text x="35" y="1290" textLength="1013" lengthAdjust="spacing">MAPKs: <tspan fill="#1e9ad6">Mitogen-activated protein kinases</tspan>, NGF: <tspan fill="#1e9ad6">Nerve growth factor</tspan>, TrkA: <tspan fill="#1e9ad6">Tropomyosin receptor kinase A</tspan>, PLCɣ: <tspan fill="#1e9ad6">Phospholipase C gamma</tspan>,</text>
<text x="35" y="1308" textLength="1013" lengthAdjust="spacing">PI3K: <tspan fill="#1e9ad6">Phosphoinositide 3-kinase</tspan>, PIP2: <tspan fill="#1e9ad6">Phosphatidylinositol-4,5-bisphosphate</tspan>, PIP3: <tspan fill="#1e9ad6">Phosphatidylinositol-3,4,5-bisphosphate</tspan>, PKB: <tspan fill="#1e9ad6">Protein</tspan></text>
<text x="35" y="1326" textLength="1013" lengthAdjust="spacing"><tspan fill="#1e9ad6">kinase B</tspan>, Rac: <tspan fill="#1e9ad6">Radial artery catheter</tspan>, MAP: <tspan fill="#1e9ad6">Membrane attack complex</tspan>, ERK: <tspan fill="#1e9ad6">Extracellular-signal-regulated kinase</tspan>, TCF or ELK: <tspan fill="#1e9ad6">Ternary</tspan></text>
<text x="35" y="1344" textLength="1013" lengthAdjust="spacing"><tspan fill="#1e9ad6">complex factor transcription factor</tspan>, CREB: <tspan fill="#1e9ad6">cAMP response element-binding protein</tspan>, RIP: <tspan fill="#1e9ad6">Receptor-interacting protein</tspan>, IRAK: <tspan fill="#1e9ad6">Interleukin-1</tspan></text>
<text x="35" y="1362" textLength="1013" lengthAdjust="spacing"><tspan fill="#1e9ad6">receptor (IL-1R) associated kinase</tspan>, PKC: <tspan fill="#1e9ad6">Protein kinase C</tspan>, NF-Kb: <tspan fill="#1e9ad6">Nuclear factor kappa-light-chain-enhancer of activated B cells</tspan>, MKKK:</text>
<text x="35" y="1379" textLength="1013" lengthAdjust="spacing"><tspan fill="#1e9ad6">Mitogen-activated protein kinase kinase</tspan>, MKK4: <tspan fill="#1e9ad6">Mitogen-Activated Protein Kinase Kinase 4</tspan>, JNK: <tspan fill="#1e9ad6">C-Jun N-terminal kinase</tspan>, BAX or Bacl:</text>
<text x="35" y="1397" textLength="1013" lengthAdjust="spacing"><tspan fill="#1e9ad6">Apoptosis regulator</tspan>, RTK: <tspan fill="#1e9ad6">Receptor tyrosine kinases</tspan>, IRS: <tspan fill="#1e9ad6">Insulin receptor substrate 1</tspan>, SH2: <tspan fill="#1e9ad6">Src Homology 2</tspan>, PTEN: <tspan fill="#1e9ad6">Phosphatase and tensin</tspan></text>
<text x="35" y="1415" textLength="1013" lengthAdjust="spacing"><tspan fill="#1e9ad6">homolog</tspan>, PKD: <tspan fill="#1e9ad6">Polycystic kidney disease</tspan>, PKB or AKT: <tspan fill="#1e9ad6">Protein kinase B (PKB)</tspan>, FOXo1: <tspan fill="#1e9ad6">Forkhead box protein O1</tspan>, BIM: <tspan fill="#1e9ad6">Bcl-2-like protein 11</tspan>,</text>
<text x="35" y="1433" textLength="1013" lengthAdjust="spacing">GSK: <tspan fill="#1e9ad6">Glycogen synthase kinase</tspan>, Bad: <tspan fill="#1e9ad6">Pro-apoptotic protein of the Bcl-2</tspan>, NOD2: <tspan fill="#1e9ad6">Nucleotide-binding oligomerization domain-containing protein</tspan></text>
<text x="35" y="1451" textLength="1013" lengthAdjust="spacing"><tspan fill="#1e9ad6">2</tspan>, RIP2: <tspan fill="#1e9ad6">Receptor interacting protein-2</tspan>, IKK: <tspan fill="#1e9ad6">IkappaB kinase complex</tspan>, Iκ β: <tspan fill="#1e9ad6">Nuclear factor of kappa light polypeptide gene enhancer in B-cells</tspan></text>
<text x="35" y="1469" textLength="1013" lengthAdjust="spacing"><tspan fill="#1e9ad6">inhibitor</tspan>, C-FOS: <tspan fill="#1e9ad6">Proto-oncogene</tspan>, AP1: <tspan fill="#1e9ad6">Activator protein 1</tspan>, Caspase: <tspan fill="#1e9ad6">Cysteine-aspartic proteases, cysteine aspartases or cysteine-dependent</tspan></text>
<text x="35" y="1487" textLength="1013" lengthAdjust="spacing"><tspan fill="#1e9ad6">aspartate-directed proteases</tspan>, P38: <tspan fill="#1e9ad6">Major signaling cassettes of the mitogen-activated protein kinase (MAPK)</tspan>, TβRII: <tspan fill="#1e9ad6">T-Box Brain Transcription</tspan></text>
<text x="35" y="1504" textLength="1013" lengthAdjust="spacing"><tspan fill="#1e9ad6">Factor 1</tspan>,TGF β : <tspan fill="#1e9ad6">Transforming growth factor beta</tspan>, TRAF: <tspan fill="#1e9ad6">Tumor necrosis factor receptor-associated factor</tspan>, Shc: <tspan fill="#1e9ad6">Src homology 2 domain-</tspan></text>
<text x="35" y="1522" textLength="1013" lengthAdjust="spacing"><tspan fill="#1e9ad6">containing (transforming protein 1)</tspan>, TAK1: <tspan fill="#1e9ad6">Transforming growth factor beta-activated kinase 1</tspan>, TF: <tspan fill="#1e9ad6">Tissue factor</tspan>, SMAD 1: <tspan fill="#1e9ad6">Mothers against</tspan></text>
<text x="35" y="1540"><tspan fill="#1e9ad6">decapentaplegic homolog 1</tspan>, R-SMAD: <tspan fill="#1e9ad6">Receptor-regulated Smads.</tspan></text>
</g>
</svg>
</body></html>
